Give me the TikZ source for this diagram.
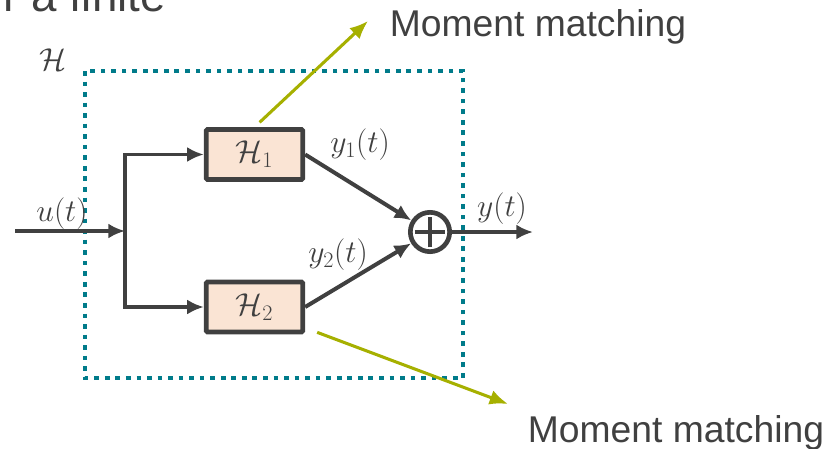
\RequirePackage{fix-cm}
\documentclass[tikz,border=0pt]{standalone}
\usepackage{fontspec}
\newfontfamily\slidefont{Liberation Sans}
\usetikzlibrary{arrows.meta,positioning}
\definecolor{darkline}{HTML}{404040}
\definecolor{hullteal}{HTML}{007B8A}
\definecolor{linkolive}{HTML}{A6B000}
\definecolor{blockfill}{HTML}{FAE4D4}
\tikzset{
  block/.style={draw=darkline, fill=blockfill, line width=4pt, rounded corners=1pt,
    minimum width=2.9cm, minimum height=1.5cm, inner sep=0pt,
    text=darkline, font=\fontsize{27}{30}\selectfont},
  sumnode/.style={circle, draw=darkline, line width=4pt, minimum size=1.18cm, inner sep=0pt,
    path picture={\draw[darkline, line width=3.8pt]
      ([xshift=-0.46cm]path picture bounding box.center) -- ([xshift=0.46cm]path picture bounding box.center)
      ([yshift=-0.46cm]path picture bounding box.center) -- ([yshift=0.46cm]path picture bounding box.center);}},
  signal/.style={draw=darkline, line width=3.4pt, -{Latex[length=0.5cm,width=0.45cm]}},
  link/.style={draw=linkolive, line width=2.6pt, -{Latex[length=0.55cm,width=0.45cm]}},
  hull/.style={draw=hullteal, line width=4pt, dash pattern=on 4pt off 5pt},
  mathlabel/.style={text=darkline, font=\fontsize{27}{30}\selectfont, inner sep=0pt},
  slidetext/.style={text=darkline, font=\slidefont\fontsize{31.8}{36}\selectfont, inner sep=0pt}
}
\begin{document}
\begin{tikzpicture}[x=0.03cm, y=-0.03cm]
    \useasboundingbox (0,0) rectangle (838,449);

    % Rest of the slide title
    \node[anchor=base east, inner sep=0pt, text=darkline, font=\slidefont\fontsize{39}{44}\selectfont]
      (title) at (166,12) {r a finite};

    % System boundary
    \draw[hull] (85,71) rectangle (463,378);
    \node[mathlabel] (hname) at (53,60) {$\mathcal{H}$};

    % Blocks
    \node[block] (h1) at (254.5,154.5) {$\mathcal{H}_1$};
    \node[block] (h2) at (254.5,307) {$\mathcal{H}_2$};
    \node[sumnode] (sum) at (430,232) {};

    % Signals
    \coordinate (in) at (15,231);
    \coordinate (split) at (125,231);
    \coordinate (out) at (533,232);
    \draw[signal] (in) -- (split);
    \draw[signal] (split) |- (h1);
    \draw[signal] (split) |- (h2);
    \draw[signal] (h1.east) -- (sum);
    \draw[signal] (h2.east) -- (sum);
    \draw[signal] (sum) -- (out);

    % Signal names
    \node[mathlabel] (u) at (62,214) {$u(t)$};
    \node[mathlabel] (y1) at (360,145) {$y_1(t)$};
    \node[mathlabel] (y2) at (338,255) {$y_2(t)$};
    \node[mathlabel] (y) at (502,209) {$y(t)$};

    % Moment matching pointers
    \coordinate (mm1tip) at (368,21);
    \coordinate (mm2tip) at (508,404);
    \draw[link, shorten <=0.21cm] (h1.north) -- (mm1tip);
    \draw[link] ([shift={(12,-2)}]h2.south east) -- (mm2tip);
    \node[slidetext] (mm1) at (538,27) {Moment matching};
    \node[slidetext] (mm2) at (676,433) {Moment matching};
\end{tikzpicture}
\end{document}
